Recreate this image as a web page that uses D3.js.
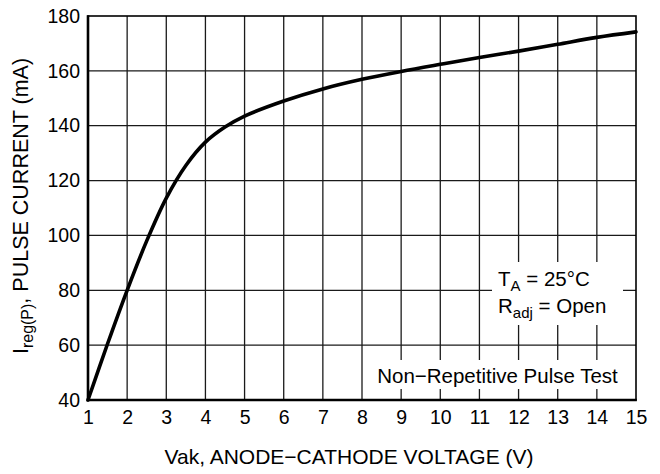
<!DOCTYPE html>
<html><head><meta charset="utf-8">
<script src="https://cdn.jsdelivr.net/npm/d3@7"></script>
<style>body{margin:0;background:#fff}svg{display:block}text{font-family:"Liberation Sans",Arial,sans-serif;fill:#000}</style>
</head><body>
<svg id="c" width="660" height="474"></svg>
<script>
const voltage = [1,1.5,2,2.5,3,3.5,4,4.5,5,6,7,8,9,10,11,12,13,14,15];
const current = [40,60.5,80,98,113.6,125.5,134,139.5,143.5,149,153.4,156.9,159.8,162.4,164.9,167.2,169.7,172.2,174.2];
const xTicks = [1,2,3,4,5,6,7,8,9,10,11,12,13,14,15];
const yTicks = [40,60,80,100,120,140,160,180];

const svg = d3.select("#c");
const L=88,R=636,T=16,B=400;
const x = d3.scaleLinear().domain([1,15]).range([L,R]);
const y = d3.scaleLinear().domain([40,180]).range([B,T]);
const FF = "Liberation Sans, Arial, sans-serif";

const g = svg.append("g");
// grid
g.selectAll(".vx").data(xTicks.slice(1,-1)).enter().append("line")
 .attr("x1",d=>x(d)).attr("x2",d=>x(d)).attr("y1",T).attr("y2",B)
 .attr("stroke","#1a1a1a").attr("stroke-width",1.3);
g.selectAll(".hy").data(yTicks.slice(1,-1)).enter().append("line")
 .attr("x1",L).attr("x2",R).attr("y1",d=>y(d)).attr("y2",d=>y(d))
 .attr("stroke","#1a1a1a").attr("stroke-width",1.3);

// annotation boxes (white, cover grid)
g.append("rect").attr("x",492).attr("y",262).attr("width",131).attr("height",63).attr("fill","#fff");
g.append("rect").attr("x",366).attr("y",360).attr("width",266).attr("height",29).attr("fill","#fff");

// frame
g.append("rect").attr("x",L).attr("y",T).attr("width",R-L).attr("height",B-T)
 .attr("fill","none").attr("stroke","#000").attr("stroke-width",1.6);
g.append("line").attr("x1",L).attr("x2",L).attr("y1",T-0.8).attr("y2",B+1.3).attr("stroke","#000").attr("stroke-width",2.6);
g.append("line").attr("x1",L-1.3).attr("x2",R+0.8).attr("y1",B).attr("y2",B).attr("stroke","#000").attr("stroke-width",2.6);

// axes tick labels via d3 axes
const xa = svg.append("g").attr("transform",`translate(0,${B})`)
 .call(d3.axisBottom(x).tickValues(xTicks).tickSize(0).tickPadding(10).tickFormat(d3.format("d")));
xa.select(".domain").remove();
xa.selectAll("text").attr("dy",null).attr("y",24).style("font-size","19.5px").style("font-family",FF);
const ya = svg.append("g").attr("transform",`translate(${L},0)`)
 .call(d3.axisLeft(y).tickValues(yTicks).tickSize(0).tickPadding(8).tickFormat(d3.format("d")));
ya.select(".domain").remove();
ya.selectAll("text").style("font-size","19.5px").style("font-family",FF);

// curve
const line = d3.line().x((d,i)=>x(voltage[i])).y(d=>y(d)).curve(d3.curveCatmullRom.alpha(0.5));
svg.append("path").attr("d",line(current)).attr("fill","none").attr("stroke","#000")
 .attr("stroke-width",3.6).attr("stroke-linecap","round");

// titles
svg.append("text").attr("x",349).attr("y",464).attr("text-anchor","middle")
 .style("font-size","21px").text("Vak, ANODE\u2212CATHODE VOLTAGE (V)");
const yt = svg.append("text").attr("transform","translate(28,206) rotate(-90)").attr("text-anchor","middle")
 .style("font-size","21.5px");
yt.append("tspan").text("I");
yt.append("tspan").attr("dy",5).style("font-size","16px").text("reg(P)");
yt.append("tspan").attr("dy",-5).text(", PULSE CURRENT (mA)");

// annotations
const a1 = svg.append("text").attr("x",498).attr("y",286).style("font-size","20.5px");
a1.append("tspan").text("T");
a1.append("tspan").attr("dy",5).style("font-size","15px").text("A");
a1.append("tspan").attr("dy",-5).text(" = 25\u00B0C");
const a2 = svg.append("text").attr("x",498).attr("y",312.5).style("font-size","20.5px");
a2.append("tspan").text("R");
a2.append("tspan").attr("dy",5).style("font-size","15px").text("adj");
a2.append("tspan").attr("dy",-5).text(" = Open");
svg.append("text").attr("x",497.5).attr("y",382.5).attr("text-anchor","middle")
 .style("font-size","20.5px").text("Non\u2212Repetitive Pulse Test");
</script>
</body></html>
